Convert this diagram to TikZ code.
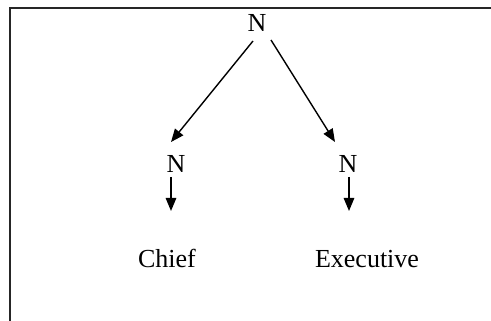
\documentclass[tikz,border=0pt]{standalone}
\usepackage{fontspec}
\setmainfont{Liberation Serif}
\usetikzlibrary{arrows.meta}
\begin{document}
\begin{tikzpicture}[x=1pt,y=-1pt,
  lbl/.style={inner sep=0pt,anchor=base,font=\fontsize{26}{30}\selectfont},
  conn/.style={line width=1.4pt,-{Triangle[length=13pt,width=10.5pt]}}]
\useasboundingbox (0,0) rectangle (491,321);
\draw[line width=1.4pt,black!85] (10,321) -- (10,8) -- (491,8);
\node[lbl] (top) at (257,32) {N};
\node[lbl] (nl) at (176,173) {N};
\node[lbl] (nr) at (348,173) {N};
\node[lbl] (chief) at (167,267) {Chief};
\node[lbl] (exec) at (367,267) {Executive};
\coordinate (tl) at (253,41);
\coordinate (tr) at (271,40);
\coordinate (el) at (171,142);
\coordinate (er) at (335,142);
\coordinate (sl) at (171,177);
\coordinate (sr) at (349,177);
\coordinate (dl) at (171,211);
\coordinate (dr) at (349,211);
\draw[conn] (tl) -- (el);
\draw[conn] (tr) -- (er);
\draw[conn] (sl) -- (dl);
\draw[conn] (sr) -- (dr);
\end{tikzpicture}
\end{document}
